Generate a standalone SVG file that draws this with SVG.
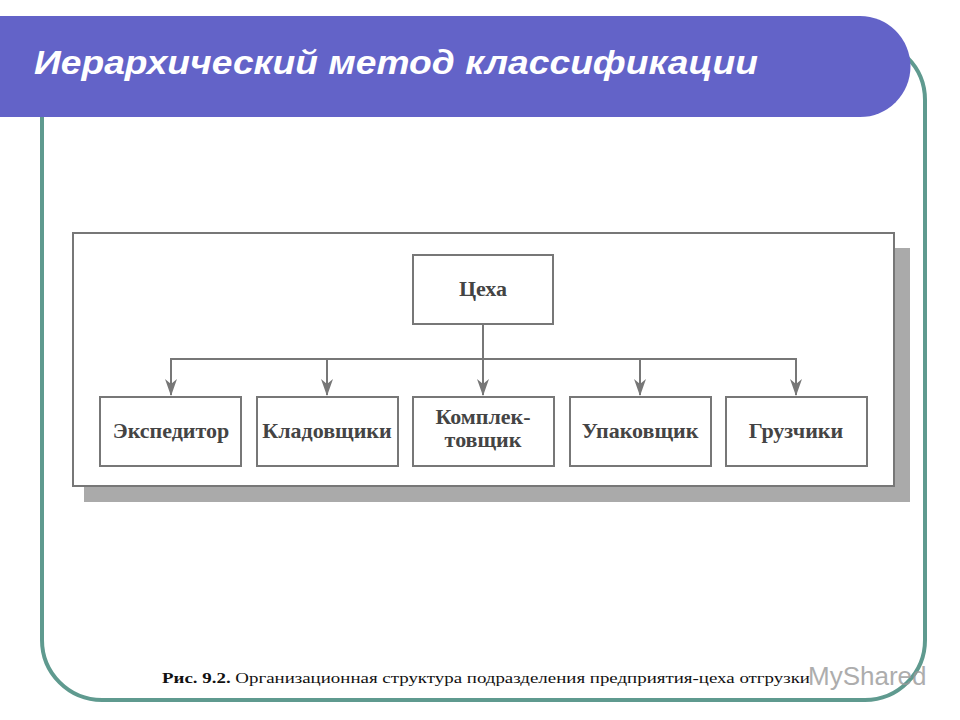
<svg xmlns="http://www.w3.org/2000/svg" width="960" height="720" viewBox="0 0 960 720">
<style>
.box{fill:#fff;stroke:#777;stroke-width:2}
.t{font-family:"Liberation Serif",serif;font-size:22px;font-weight:bold;fill:#444;text-anchor:middle}
.ln{stroke:#777;stroke-width:2;fill:none}
</style>
<defs><marker id="a" markerWidth="17" markerHeight="12" refX="16" refY="6" orient="auto" markerUnits="userSpaceOnUse" viewBox="0 0 17 12"><path d="M0,0 L17,6 L0,12 L5,6 Z" fill="#777"/></marker></defs>
<rect width="960" height="720" fill="#fff"/>
<rect x="42" y="40" width="883" height="660" rx="60" fill="#fff" stroke="#5f9a8f" stroke-width="4"/>
<path d="M0,16 H860 A50.5,50.5 0 0 1 860,117 H0 Z" fill="#6363c8"/>
<text x="34" y="74" font-family="Liberation Sans,Arial,sans-serif" font-size="33" font-weight="bold" font-style="italic" fill="#fff" textLength="724" lengthAdjust="spacingAndGlyphs">Иерархический метод классификации</text>
<rect x="84" y="248" width="826" height="254" fill="#aaa"/>
<rect x="73" y="233" width="821" height="253" class="box"/>
<g id="connectors">
<line x1="483" y1="324" x2="483" y2="395" class="ln" marker-end="url(#a)"/>
<polyline points="171,395 171,359 796,359 796,395" class="ln"/>
<line x1="171" y1="359" x2="171" y2="395" class="ln" marker-end="url(#a)"/>
<line x1="796" y1="359" x2="796" y2="395" class="ln" marker-end="url(#a)"/>
<line x1="327" y1="359" x2="327" y2="395" class="ln" marker-end="url(#a)"/>
<line x1="640" y1="359" x2="640" y2="395" class="ln" marker-end="url(#a)"/>
</g>
<g id="n0"><rect x="413" y="255" width="140" height="69" class="box"/><text x="483" y="296" class="t">Цеха</text></g>
<g id="n1"><rect x="100" y="397" width="141" height="69" class="box"/><text x="171" y="438" class="t">Экспедитор</text></g>
<g id="n2"><rect x="257" y="397" width="141" height="69" class="box"/><text x="327" y="438" class="t">Кладовщики</text></g>
<g id="n3"><rect x="413" y="397" width="141" height="69" class="box"/><text x="483" y="424" class="t">Комплек-</text><text x="483" y="447" class="t">товщик</text></g>
<g id="n4"><rect x="570" y="397" width="141" height="69" class="box"/><text x="640" y="438" class="t">Упаковщик</text></g>
<g id="n5"><rect x="726" y="397" width="141" height="69" class="box"/><text x="796" y="438" class="t">Грузчики</text></g>
<text x="162" y="683" font-family="Liberation Serif,serif" font-size="15.5" fill="#111" textLength="648" lengthAdjust="spacingAndGlyphs"><tspan font-weight="bold">Рис. 9.2.</tspan>  Организационная структура подразделения предприятия-цеха отгрузки</text>
<text x="808" y="685" font-family="Liberation Sans,sans-serif" font-size="26" fill="#999" opacity="0.8">MyShared</text>
</svg>
